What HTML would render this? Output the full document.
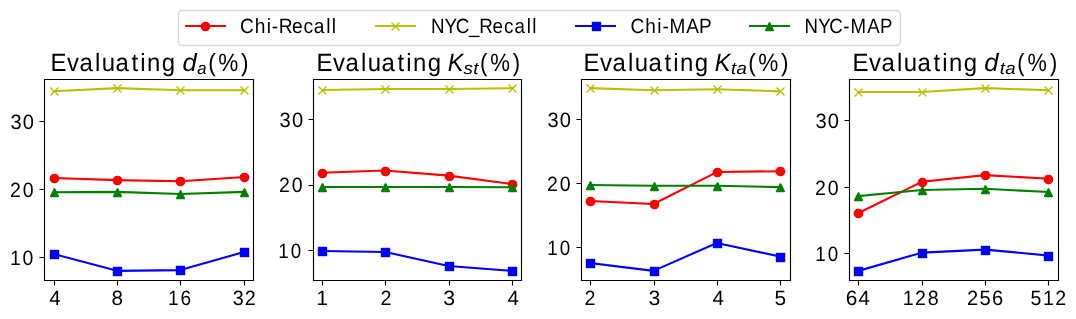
<!DOCTYPE html>
<html><head><meta charset="utf-8"><title>Evaluating parameters</title>
<style>html,body{margin:0;padding:0;background:#fff;width:1076px;height:319px;overflow:hidden}svg{display:block;will-change:transform;font-family:"Liberation Sans",sans-serif}</style>
</head><body>
<svg width="1076" height="319" viewBox="0 0 1076 319">
<rect width="1076" height="319" fill="#fff"/>
<clipPath id="c0"><rect x="44.3" y="79" width="208.9" height="201"/></clipPath>
<polyline clip-path="url(#c0)" points="53.8,178.04 117.1,180.15 180.4,181.17 243.7,177.02" fill="none" stroke="#ff0000" stroke-width="2.08" stroke-linejoin="round" stroke-linecap="square"/>
<g stroke-linejoin="miter"><circle cx="54.5" cy="178.5" r="4.17" fill="#ff0000" stroke="#ff0000" stroke-width="1.39"/><circle cx="117.5" cy="180.5" r="4.17" fill="#ff0000" stroke="#ff0000" stroke-width="1.39"/><circle cx="180.5" cy="181.5" r="4.17" fill="#ff0000" stroke="#ff0000" stroke-width="1.39"/><circle cx="244.5" cy="177.5" r="4.17" fill="#ff0000" stroke="#ff0000" stroke-width="1.39"/></g>
<polyline clip-path="url(#c0)" points="53.8,91.2 117.1,88.14 180.4,90.18 243.7,90.18" fill="none" stroke="#bfbf00" stroke-width="2.08" stroke-linejoin="round" stroke-linecap="square"/>
<g stroke-linejoin="miter"><path d="M50.5 87.5L58.5 95.5M50.5 95.5L58.5 87.5" stroke="#bfbf00" stroke-width="1.39" fill="none" stroke-linecap="butt"/><path d="M113.5 84.5L121.5 92.5M113.5 92.5L121.5 84.5" stroke="#bfbf00" stroke-width="1.39" fill="none" stroke-linecap="butt"/><path d="M176.5 86.5L184.5 94.5M176.5 94.5L184.5 86.5" stroke="#bfbf00" stroke-width="1.39" fill="none" stroke-linecap="butt"/><path d="M240.5 86.5L248.5 94.5M240.5 94.5L248.5 86.5" stroke="#bfbf00" stroke-width="1.39" fill="none" stroke-linecap="butt"/></g>
<polyline clip-path="url(#c0)" points="53.8,254.07 117.1,270.86 180.4,270.12 243.7,252.09" fill="none" stroke="#0000ff" stroke-width="2.08" stroke-linejoin="round" stroke-linecap="square"/>
<g stroke-linejoin="miter"><rect x="50.5" y="250.5" width="8" height="8" fill="#0000ff" stroke="#0000ff" stroke-width="1.39"/><rect x="113.5" y="267.5" width="8" height="8" fill="#0000ff" stroke="#0000ff" stroke-width="1.39"/><rect x="176.5" y="266.5" width="8" height="8" fill="#0000ff" stroke="#0000ff" stroke-width="1.39"/><rect x="240.5" y="248.5" width="8" height="8" fill="#0000ff" stroke="#0000ff" stroke-width="1.39"/></g>
<polyline clip-path="url(#c0)" points="53.8,192.32 117.1,191.91 180.4,194.02 243.7,191.91" fill="none" stroke="#008000" stroke-width="2.08" stroke-linejoin="round" stroke-linecap="square"/>
<g stroke-linejoin="miter"><path d="M54.5 188.5L50.5 196.5L58.5 196.5Z" fill="#008000" stroke="#008000" stroke-width="1.39" stroke-linejoin="bevel"/><path d="M117.5 188.5L113.5 196.5L121.5 196.5Z" fill="#008000" stroke="#008000" stroke-width="1.39" stroke-linejoin="bevel"/><path d="M180.5 190.5L176.5 198.5L184.5 198.5Z" fill="#008000" stroke="#008000" stroke-width="1.39" stroke-linejoin="bevel"/><path d="M244.5 188.5L240.5 196.5L248.5 196.5Z" fill="#008000" stroke="#008000" stroke-width="1.39" stroke-linejoin="bevel"/></g>
<path d="M44.5 79.5V280.5M253.5 79.5V280.5M44.5 79.5H253.5M44.5 280.5H253.5" stroke="#000" stroke-width="1.11" stroke-linecap="square" fill="none"/>
<path d="M44.5 257.5H39.5M44.5 189.5H39.5M44.5 121.5H39.5M54.5 280.5V285.5M117.5 280.5V285.5M180.5 280.5V285.5M244.5 280.5V285.5" stroke="#000" stroke-width="1.11" fill="none"/>
<clipPath id="c1"><rect x="312.52" y="79" width="208.9" height="201"/></clipPath>
<polyline clip-path="url(#c1)" points="322.02,172.79 385.32,170.56 448.62,175.6 511.92,184" fill="none" stroke="#ff0000" stroke-width="2.08" stroke-linejoin="round" stroke-linecap="square"/>
<g stroke-linejoin="miter"><circle cx="322.5" cy="173.5" r="4.17" fill="#ff0000" stroke="#ff0000" stroke-width="1.39"/><circle cx="385.5" cy="171.5" r="4.17" fill="#ff0000" stroke="#ff0000" stroke-width="1.39"/><circle cx="449.5" cy="176.5" r="4.17" fill="#ff0000" stroke="#ff0000" stroke-width="1.39"/><circle cx="512.5" cy="184.5" r="4.17" fill="#ff0000" stroke="#ff0000" stroke-width="1.39"/></g>
<polyline clip-path="url(#c1)" points="322.02,89.97 385.32,88.99 448.62,88.99 511.92,88.14" fill="none" stroke="#bfbf00" stroke-width="2.08" stroke-linejoin="round" stroke-linecap="square"/>
<g stroke-linejoin="miter"><path d="M318.5 86.5L326.5 94.5M318.5 94.5L326.5 86.5" stroke="#bfbf00" stroke-width="1.39" fill="none" stroke-linecap="butt"/><path d="M381.5 85.5L389.5 93.5M381.5 93.5L389.5 85.5" stroke="#bfbf00" stroke-width="1.39" fill="none" stroke-linecap="butt"/><path d="M445.5 85.5L453.5 93.5M445.5 93.5L453.5 85.5" stroke="#bfbf00" stroke-width="1.39" fill="none" stroke-linecap="butt"/><path d="M508.5 84.5L516.5 92.5M508.5 92.5L516.5 84.5" stroke="#bfbf00" stroke-width="1.39" fill="none" stroke-linecap="butt"/></g>
<polyline clip-path="url(#c1)" points="322.02,251 385.32,252 448.62,266 511.92,270.86" fill="none" stroke="#0000ff" stroke-width="2.08" stroke-linejoin="round" stroke-linecap="square"/>
<g stroke-linejoin="miter"><rect x="318.5" y="247.5" width="8" height="8" fill="#0000ff" stroke="#0000ff" stroke-width="1.39"/><rect x="381.5" y="248.5" width="8" height="8" fill="#0000ff" stroke="#0000ff" stroke-width="1.39"/><rect x="445.5" y="262.5" width="8" height="8" fill="#0000ff" stroke="#0000ff" stroke-width="1.39"/><rect x="508.5" y="267.5" width="8" height="8" fill="#0000ff" stroke="#0000ff" stroke-width="1.39"/></g>
<polyline clip-path="url(#c1)" points="322.02,187 385.32,187 448.62,187 511.92,187.19" fill="none" stroke="#008000" stroke-width="2.08" stroke-linejoin="round" stroke-linecap="square"/>
<g stroke-linejoin="miter"><path d="M322.5 183.5L318.5 191.5L326.5 191.5Z" fill="#008000" stroke="#008000" stroke-width="1.39" stroke-linejoin="bevel"/><path d="M385.5 183.5L381.5 191.5L389.5 191.5Z" fill="#008000" stroke="#008000" stroke-width="1.39" stroke-linejoin="bevel"/><path d="M449.5 183.5L445.5 191.5L453.5 191.5Z" fill="#008000" stroke="#008000" stroke-width="1.39" stroke-linejoin="bevel"/><path d="M512.5 183.5L508.5 191.5L516.5 191.5Z" fill="#008000" stroke="#008000" stroke-width="1.39" stroke-linejoin="bevel"/></g>
<path d="M313.5 79.5V280.5M521.5 79.5V280.5M313.5 79.5H521.5M313.5 280.5H521.5" stroke="#000" stroke-width="1.11" stroke-linecap="square" fill="none"/>
<path d="M313.5 250.5H308.5M313.5 185.5H308.5M313.5 119.5H308.5M322.5 280.5V285.5M385.5 280.5V285.5M449.5 280.5V285.5M512.5 280.5V285.5" stroke="#000" stroke-width="1.11" fill="none"/>
<clipPath id="c2"><rect x="580.74" y="79" width="208.9" height="201"/></clipPath>
<polyline clip-path="url(#c2)" points="590.24,200.95 653.54,204.01 716.84,172.07 780.14,171.18" fill="none" stroke="#ff0000" stroke-width="2.08" stroke-linejoin="round" stroke-linecap="square"/>
<g stroke-linejoin="miter"><circle cx="590.5" cy="201.5" r="4.17" fill="#ff0000" stroke="#ff0000" stroke-width="1.39"/><circle cx="654.5" cy="204.5" r="4.17" fill="#ff0000" stroke="#ff0000" stroke-width="1.39"/><circle cx="717.5" cy="172.5" r="4.17" fill="#ff0000" stroke="#ff0000" stroke-width="1.39"/><circle cx="780.5" cy="171.5" r="4.17" fill="#ff0000" stroke="#ff0000" stroke-width="1.39"/></g>
<polyline clip-path="url(#c2)" points="590.24,88.14 653.54,90.3 716.84,89.22 780.14,91.32" fill="none" stroke="#bfbf00" stroke-width="2.08" stroke-linejoin="round" stroke-linecap="square"/>
<g stroke-linejoin="miter"><path d="M586.5 84.5L594.5 92.5M586.5 92.5L594.5 84.5" stroke="#bfbf00" stroke-width="1.39" fill="none" stroke-linecap="butt"/><path d="M650.5 86.5L658.5 94.5M650.5 94.5L658.5 86.5" stroke="#bfbf00" stroke-width="1.39" fill="none" stroke-linecap="butt"/><path d="M713.5 85.5L721.5 93.5M713.5 93.5L721.5 85.5" stroke="#bfbf00" stroke-width="1.39" fill="none" stroke-linecap="butt"/><path d="M776.5 87.5L784.5 95.5M776.5 95.5L784.5 87.5" stroke="#bfbf00" stroke-width="1.39" fill="none" stroke-linecap="butt"/></g>
<polyline clip-path="url(#c2)" points="590.24,263 653.54,270.86 716.84,242.95 780.14,256.59" fill="none" stroke="#0000ff" stroke-width="2.08" stroke-linejoin="round" stroke-linecap="square"/>
<g stroke-linejoin="miter"><rect x="586.5" y="259.5" width="8" height="8" fill="#0000ff" stroke="#0000ff" stroke-width="1.39"/><rect x="650.5" y="267.5" width="8" height="8" fill="#0000ff" stroke="#0000ff" stroke-width="1.39"/><rect x="713.5" y="239.5" width="8" height="8" fill="#0000ff" stroke="#0000ff" stroke-width="1.39"/><rect x="776.5" y="253.5" width="8" height="8" fill="#0000ff" stroke="#0000ff" stroke-width="1.39"/></g>
<polyline clip-path="url(#c2)" points="590.24,185.08 653.54,185.71 716.84,185.71 780.14,187.12" fill="none" stroke="#008000" stroke-width="2.08" stroke-linejoin="round" stroke-linecap="square"/>
<g stroke-linejoin="miter"><path d="M590.5 181.5L586.5 189.5L594.5 189.5Z" fill="#008000" stroke="#008000" stroke-width="1.39" stroke-linejoin="bevel"/><path d="M654.5 182.5L650.5 190.5L658.5 190.5Z" fill="#008000" stroke="#008000" stroke-width="1.39" stroke-linejoin="bevel"/><path d="M717.5 182.5L713.5 190.5L721.5 190.5Z" fill="#008000" stroke="#008000" stroke-width="1.39" stroke-linejoin="bevel"/><path d="M780.5 183.5L776.5 191.5L784.5 191.5Z" fill="#008000" stroke="#008000" stroke-width="1.39" stroke-linejoin="bevel"/></g>
<path d="M581.5 79.5V280.5M790.5 79.5V280.5M581.5 79.5H790.5M581.5 280.5H790.5" stroke="#000" stroke-width="1.11" stroke-linecap="square" fill="none"/>
<path d="M581.5 247.5H576.5M581.5 183.5H576.5M581.5 119.5H576.5M590.5 280.5V285.5M654.5 280.5V285.5M717.5 280.5V285.5M780.5 280.5V285.5" stroke="#000" stroke-width="1.11" fill="none"/>
<clipPath id="c3"><rect x="848.96" y="79" width="208.9" height="201"/></clipPath>
<polyline clip-path="url(#c3)" points="858.46,213 921.76,181.83 985.06,175.11 1048.36,178.77" fill="none" stroke="#ff0000" stroke-width="2.08" stroke-linejoin="round" stroke-linecap="square"/>
<g stroke-linejoin="miter"><circle cx="858.5" cy="213.5" r="4.17" fill="#ff0000" stroke="#ff0000" stroke-width="1.39"/><circle cx="922.5" cy="182.5" r="4.17" fill="#ff0000" stroke="#ff0000" stroke-width="1.39"/><circle cx="985.5" cy="175.5" r="4.17" fill="#ff0000" stroke="#ff0000" stroke-width="1.39"/><circle cx="1048.5" cy="179.5" r="4.17" fill="#ff0000" stroke="#ff0000" stroke-width="1.39"/></g>
<polyline clip-path="url(#c3)" points="858.46,92 921.76,92 985.06,88.14 1048.36,90.2" fill="none" stroke="#bfbf00" stroke-width="2.08" stroke-linejoin="round" stroke-linecap="square"/>
<g stroke-linejoin="miter"><path d="M854.5 88.5L862.5 96.5M854.5 96.5L862.5 88.5" stroke="#bfbf00" stroke-width="1.39" fill="none" stroke-linecap="butt"/><path d="M918.5 88.5L926.5 96.5M918.5 96.5L926.5 88.5" stroke="#bfbf00" stroke-width="1.39" fill="none" stroke-linecap="butt"/><path d="M981.5 84.5L989.5 92.5M981.5 92.5L989.5 84.5" stroke="#bfbf00" stroke-width="1.39" fill="none" stroke-linecap="butt"/><path d="M1044.5 86.5L1052.5 94.5M1044.5 94.5L1052.5 86.5" stroke="#bfbf00" stroke-width="1.39" fill="none" stroke-linecap="butt"/></g>
<polyline clip-path="url(#c3)" points="858.46,270.86 921.76,252.64 985.06,249.59 1048.36,255.5" fill="none" stroke="#0000ff" stroke-width="2.08" stroke-linejoin="round" stroke-linecap="square"/>
<g stroke-linejoin="miter"><rect x="854.5" y="267.5" width="8" height="8" fill="#0000ff" stroke="#0000ff" stroke-width="1.39"/><rect x="918.5" y="249.5" width="8" height="8" fill="#0000ff" stroke="#0000ff" stroke-width="1.39"/><rect x="981.5" y="246.5" width="8" height="8" fill="#0000ff" stroke="#0000ff" stroke-width="1.39"/><rect x="1044.5" y="252.5" width="8" height="8" fill="#0000ff" stroke="#0000ff" stroke-width="1.39"/></g>
<polyline clip-path="url(#c3)" points="858.46,196 921.76,189.94 985.06,188.81 1048.36,192" fill="none" stroke="#008000" stroke-width="2.08" stroke-linejoin="round" stroke-linecap="square"/>
<g stroke-linejoin="miter"><path d="M858.5 192.5L854.5 200.5L862.5 200.5Z" fill="#008000" stroke="#008000" stroke-width="1.39" stroke-linejoin="bevel"/><path d="M922.5 186.5L918.5 194.5L926.5 194.5Z" fill="#008000" stroke="#008000" stroke-width="1.39" stroke-linejoin="bevel"/><path d="M985.5 185.5L981.5 193.5L989.5 193.5Z" fill="#008000" stroke="#008000" stroke-width="1.39" stroke-linejoin="bevel"/><path d="M1048.5 188.5L1044.5 196.5L1052.5 196.5Z" fill="#008000" stroke="#008000" stroke-width="1.39" stroke-linejoin="bevel"/></g>
<path d="M849.5 79.5V280.5M1058.5 79.5V280.5M849.5 79.5H1058.5M849.5 280.5H1058.5" stroke="#000" stroke-width="1.11" stroke-linecap="square" fill="none"/>
<path d="M849.5 253.5H844.5M849.5 187.5H844.5M849.5 120.5H844.5M858.5 280.5V285.5M922.5 280.5V285.5M985.5 280.5V285.5M1048.5 280.5V285.5" stroke="#000" stroke-width="1.11" fill="none"/>
<rect x="178.5" y="10.5" width="722" height="35" rx="3.89" fill="#fff" fill-opacity="0.8" stroke="#ccc" stroke-opacity="0.8" stroke-width="1.39"/>
<path d="M186 26H225" stroke="#ff0000" stroke-width="2.08" stroke-linecap="square"/>
<g stroke-linejoin="miter"><circle cx="205.5" cy="26.5" r="4.17" fill="#ff0000" stroke="#ff0000" stroke-width="1.39"/></g>
<path d="M376 26H415" stroke="#bfbf00" stroke-width="2.08" stroke-linecap="square"/>
<g stroke-linejoin="miter"><path d="M391.5 22.5L399.5 30.5M391.5 30.5L399.5 22.5" stroke="#bfbf00" stroke-width="1.39" fill="none" stroke-linecap="butt"/></g>
<path d="M576 26H615" stroke="#0000ff" stroke-width="2.08" stroke-linecap="square"/>
<g stroke-linejoin="miter"><rect x="592.5" y="22.5" width="8" height="8" fill="#0000ff" stroke="#0000ff" stroke-width="1.39"/></g>
<path d="M750 26H789" stroke="#008000" stroke-width="2.08" stroke-linecap="square"/>
<g stroke-linejoin="miter"><path d="M769.5 22.5L765.5 30.5L773.5 30.5Z" fill="#008000" stroke="#008000" stroke-width="1.39" stroke-linejoin="bevel"/></g>
<g font-family="&quot;Liberation Sans&quot;, sans-serif" fill="#000" text-rendering="geometricPrecision">
<text transform="translate(0 305) scale(0.9946 1)" x="49.56" y="0" font-size="20.61">4</text>
<text transform="translate(0 305) scale(1.0052 1)" x="110.93" y="0" font-size="20.61">8</text>
<text transform="translate(0 305) scale(0.9278 1)" x="181.09 194.52" y="0" font-size="20.61">16</text>
<text transform="translate(0 305) scale(0.9568 1)" x="243.16 255.8" y="0" font-size="20.61">32</text>
<text transform="translate(0 265) scale(0.9408 1)" x="10.7 23.95" y="0" font-size="20.61">10</text>
<text transform="translate(0 197) scale(0.9459 1)" x="10.65 24" y="0" font-size="20.61">20</text>
<text transform="translate(0 129) scale(0.9748 1)" x="10.73 23.4" y="0" font-size="20.61">30</text>
<text transform="translate(0 305) scale(1.0329 1)" x="306.08" y="0" font-size="20.61">1</text>
<text transform="translate(0 305) scale(0.9586 1)" x="396.98" y="0" font-size="20.61">2</text>
<text transform="translate(0 305) scale(1.0293 1)" x="430.71" y="0" font-size="20.61">3</text>
<text transform="translate(0 305) scale(0.9946 1)" x="510.31" y="0" font-size="20.61">4</text>
<text transform="translate(0 258) scale(0.9114 1)" x="305.26 318.92" y="0" font-size="20.61">10</text>
<text transform="translate(0 192) scale(0.9459 1)" x="294.99 308.34" y="0" font-size="20.61">20</text>
<text transform="translate(0 127) scale(0.9748 1)" x="286.76 299.43" y="0" font-size="20.61">30</text>
<text transform="translate(0 305) scale(0.9586 1)" x="609.72" y="0" font-size="20.61">2</text>
<text transform="translate(0 305) scale(1.0293 1)" x="630.06" y="0" font-size="20.61">3</text>
<text transform="translate(0 305) scale(0.9946 1)" x="716.34" y="0" font-size="20.61">4</text>
<text transform="translate(0 305) scale(1.0115 1)" x="765.66" y="0" font-size="20.61">5</text>
<text transform="translate(0 255) scale(0.9114 1)" x="600.51 614.18" y="0" font-size="20.61">10</text>
<text transform="translate(0 191) scale(0.9459 1)" x="578.31 591.66" y="0" font-size="20.61">20</text>
<text transform="translate(0 127) scale(0.9748 1)" x="561.64 574.3" y="0" font-size="20.61">30</text>
<text transform="translate(0 305) scale(1.0112 1)" x="836.49 848.72" y="0" font-size="20.61">64</text>
<text transform="translate(0 305) scale(0.9519 1)" x="948.48 961.31 974.57" y="0" font-size="20.61">128</text>
<text transform="translate(0 305) scale(0.9752 1)" x="991.5 1004.37 1017.14" y="0" font-size="20.61">256</text>
<text transform="translate(0 305) scale(0.9488 1)" x="1086.2 1099.22 1112.08" y="0" font-size="20.61">512</text>
<text transform="translate(0 261) scale(0.9114 1)" x="894.51 908.17" y="0" font-size="20.61">10</text>
<text transform="translate(0 195) scale(0.9459 1)" x="861.62 874.97" y="0" font-size="20.61">20</text>
<text transform="translate(0 128) scale(0.9748 1)" x="836.53 849.2" y="0" font-size="20.61">30</text>
<text transform="translate(0 33) scale(0.9304 1)" x="257.95 273.71 286.67 292.2 299.57 313.72 326.19 337.24 350.75 356.56" y="0" font-size="20.61">Chi-Recall</text>
<text transform="translate(0 33) scale(0.9108 1)" x="473.09 488.17 500.3 514.95 526.32 540.73 553.46 564.77 578.48 584.41" y="0" font-size="20.61">NYC_Recall</text>
<text transform="translate(0 33) scale(0.9216 1)" x="684.26 700.15 713.2 718.79 726.55 744.57 758.53" y="0" font-size="20.61">Chi-MAP</text>
<text transform="translate(0 33) scale(0.9044 1)" x="889.59 904.78 917 932.5 940.51 958.84 973.07" y="0" font-size="20.61">NYC-MAP</text>
<text transform="translate(0 71) scale(0.9580 1)" x="52.61 69.85 83.08 99.15 106.15 120.65 137.37 146.4 153.49 168.91" y="0" font-size="25.03">Evaluating</text>
<text transform="translate(0 71) scale(1.0198 1)" x="178.9" y="0" font-size="25.03" font-style="italic">d</text>
<text transform="translate(0 73.6) scale(0.9779 1)" x="201.83" y="0" font-size="17.12" font-style="italic">a</text>
<text transform="translate(0 71) scale(0.9014 1)" x="230.96 242.18 267.32" y="0" font-size="25.03">(%)</text>
<text transform="translate(0 71) scale(0.9580 1)" x="330.26 347.5 360.73 376.8 383.8 398.3 415.02 424.04 431.14 446.56" y="0" font-size="25.03">Evaluating</text>
<text transform="translate(0 71) scale(0.9408 1)" x="475.84" y="0" font-size="25.03" font-style="italic">K</text>
<text transform="translate(0 73.6) scale(1.0999 1)" x="421.49 430.2" y="0" font-size="17.12" font-style="italic">st</text>
<text transform="translate(0 71) scale(0.8848 1)" x="542.46 554.01 579.47" y="0" font-size="25.03">(%)</text>
<text transform="translate(0 71) scale(0.9580 1)" x="609.01 626.24 639.48 655.54 662.54 677.05 693.76 702.79 709.89 725.31" y="0" font-size="25.03">Evaluating</text>
<text transform="translate(0 71) scale(0.9408 1)" x="759.65" y="0" font-size="25.03" font-style="italic">K</text>
<text transform="translate(0 73.6) scale(1.0892 1)" x="671.13 676.25" y="0" font-size="17.12" font-style="italic">ta</text>
<text transform="translate(0 71) scale(0.9014 1)" x="830.06 841.28 866.42" y="0" font-size="25.03">(%)</text>
<text transform="translate(0 71) scale(0.9580 1)" x="889.77 907.01 920.24 936.31 943.31 957.81 974.53 983.56 990.65 1006.07" y="0" font-size="25.03">Evaluating</text>
<text transform="translate(0 71) scale(1.0198 1)" x="965.26" y="0" font-size="25.03" font-style="italic">d</text>
<text transform="translate(0 73.6) scale(1.0892 1)" x="917.84 922.96" y="0" font-size="17.12" font-style="italic">ta</text>
<text transform="translate(0 71) scale(0.8682 1)" x="1171.6 1183.49 1209.3" y="0" font-size="25.03">(%)</text>
</g>
</svg>
</body></html>
